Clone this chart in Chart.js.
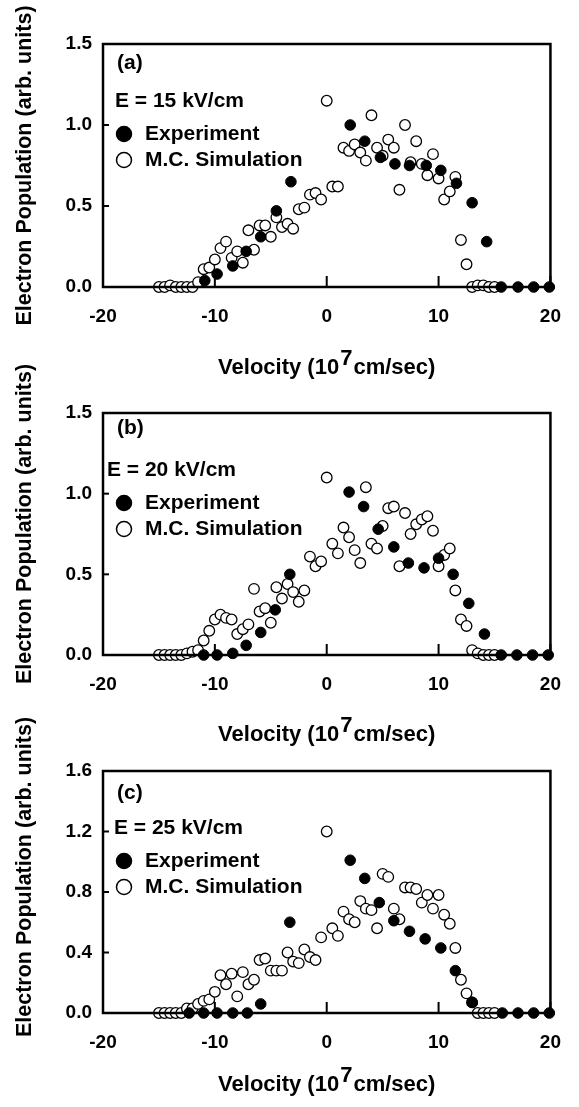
<!DOCTYPE html>
<html>
<head>
<meta charset="utf-8">
<title>Electron velocity distribution</title>
<script src="https://cdn.jsdelivr.net/npm/chart.js@4.4.0/dist/chart.umd.min.js"></script>
<style>
  html, body { margin: 0; padding: 0; background: #fff; }
  body { width: 579px; height: 1107px; position: relative; overflow: hidden; }
  .panel { position: absolute; left: 0; width: 579px; }
</style>
</head>
<body>
<div class="panel" id="wrapA"><canvas id="chartA"></canvas></div>
<div class="panel" id="wrapB"><canvas id="chartB"></canvas></div>
<div class="panel" id="wrapC"><canvas id="chartC"></canvas></div>
<script>
// ---------- DATA ----------
// M.C. simulation velocities (10^7 cm/sec), same grid for all three fields
const simX = [-15,-14.5,-14,-13.5,-13,-12.5,-12,-11.5,-11,-10.5,-10,-9.5,-9,-8.5,-8,-7.5,-7,-6.5,-6,-5.5,
              -5,-4.5,-4,-3.5,-3,-2.5,-2,-1.5,-1,-0.5,0,0.5,1,1.5,2,2.5,3,3.5,4,4.5,
              5,5.5,6,6.5,7,7.5,8,8.5,9,9.5,10,10.5,11,11.5,12,12.5,13,13.5,14,14.5,15];

// (a) E = 15 kV/cm
const simA = [0,0,0.01,0,0,0,0,0.03,0.11,0.12,0.17,0.24,0.28,0.18,0.22,0.15,0.35,0.23,0.38,0.38,
              0.31,0.43,0.37,0.39,0.36,0.48,0.49,0.57,0.58,0.54,1.15,0.62,0.62,0.86,0.84,0.88,0.83,0.78,1.06,0.86,
              0.81,0.91,0.86,0.60,1.00,0.77,0.90,0.76,0.69,0.82,0.67,0.54,0.59,0.68,0.29,0.14,0,0.01,0.01,0,0];
const expXA = [-10.9,-9.8,-8.4,-7.2,-5.9,-4.5,-3.2,2.1,3.4,4.8,6.1,7.4,8.9,10.2,11.6,13.0,14.3,15.6,17.1,18.5,19.9];
const expYA = [0.04,0.08,0.13,0.22,0.31,0.47,0.65,1.00,0.90,0.80,0.76,0.75,0.75,0.72,0.64,0.52,0.28,0,0,0,0];

// (b) E = 20 kV/cm
const simB = [0,0,0,0,0,0.01,0.02,0.03,0.09,0.15,0.22,0.25,0.23,0.22,0.13,0.16,0.19,0.41,0.27,0.29,
              0.20,0.42,0.35,0.44,0.39,0.33,0.40,0.61,0.55,0.58,1.10,0.69,0.63,0.79,0.73,0.65,0.57,1.04,0.69,0.66,
              0.80,0.91,0.92,0.55,0.88,0.75,0.81,0.84,0.86,0.77,0.55,0.62,0.66,0.40,0.22,0.18,0.03,0.01,0,0,0];
const expXB = [-11.0,-9.8,-8.4,-7.2,-5.9,-4.6,-3.3,2.0,3.3,4.6,6.0,7.3,8.7,10.0,11.3,12.7,14.1,15.6,17.0,18.4,19.8];
const expYB = [0,0,0.01,0.06,0.14,0.28,0.50,1.01,0.92,0.78,0.67,0.57,0.54,0.60,0.50,0.32,0.13,0,0,0,0];

// (c) E = 25 kV/cm
const simC = [0,0,0,0,0,0.03,0.03,0.06,0.08,0.09,0.14,0.25,0.19,0.26,0.11,0.27,0.19,0.22,0.35,0.36,
              0.28,0.28,0.28,0.40,0.34,0.33,0.42,0.37,0.35,0.50,1.20,0.56,0.51,0.67,0.62,0.60,0.74,0.69,0.68,0.56,
              0.92,0.90,0.69,0.62,0.83,0.83,0.82,0.73,0.78,0.69,0.78,0.65,0.59,0.43,0.22,0.13,0.07,0,0,0,0];
const expXC = [-12.3,-11.0,-9.8,-8.4,-7.1,-5.9,-3.3,2.1,3.4,4.7,6.0,7.4,8.8,10.2,11.5,13.0,15.7,17.1,18.5,19.9];
const expYC = [0,0,0,0,0,0.06,0.60,1.01,0.89,0.73,0.61,0.54,0.49,0.43,0.28,0.07,0,0,0,0];

// ticks + texts
const xTicks = [-20,-10,0,10,20];
const yTicksAB = [0,0.5,1.0,1.5];
const yTicksC = [0,0.4,0.8,1.2,1.6];
const legendLabels = ['Experiment','M.C. Simulation'];
const yTitle = 'Electron Population (arb. units)';
const xTitleParts = ['Velocity (10','7','cm/sec)'];

const FONT = '"Liberation Sans", Arial, Helvetica, sans-serif';

// ---------- DECORATION PLUGIN (frame, inward ticks, labels, axis titles) ----------
const panelDecor = {
  id: 'panelDecor',
  afterDatasetsDraw(chart, args, o) {
    const ctx = chart.ctx, a = chart.chartArea;
    const xs = chart.scales.x, ys = chart.scales.y;
    ctx.save();
    // frame
    ctx.strokeStyle = '#000';
    ctx.lineWidth = 2.5;
    ctx.strokeRect(a.left, a.top, a.right - a.left, a.bottom - a.top);
    // inward ticks
    ctx.lineWidth = 2;
    xs.ticks.forEach(t => {
      const px = xs.getPixelForValue(t.value);
      ctx.beginPath(); ctx.moveTo(px, a.bottom); ctx.lineTo(px, a.bottom - 11); ctx.stroke();
    });
    ys.ticks.forEach(t => {
      const py = ys.getPixelForValue(t.value);
      ctx.beginPath(); ctx.moveTo(a.left, py); ctx.lineTo(a.left + 6, py); ctx.stroke();
    });
    // panel letter + field
    ctx.fillStyle = '#000';
    ctx.textBaseline = 'middle';
    ctx.textAlign = 'left';
    ctx.font = 'bold 21px ' + FONT;
    ctx.fillText(o.letter, a.left + 14, a.top + o.letterDy);
    ctx.fillText(o.field, a.left + o.fieldDx, a.top + 57);
    // legend
    const ds = chart.data.datasets;
    [[ds[0], 90], [ds[1], 116]].forEach(([d, dy], i) => {
      ctx.beginPath();
      ctx.arc(a.left + 21, a.top + dy, 7.5, 0, Math.PI * 2);
      ctx.fillStyle = d.backgroundColor; ctx.fill();
      ctx.lineWidth = 1.5; ctx.strokeStyle = '#000'; ctx.stroke();
      ctx.fillStyle = '#000';
      ctx.fillText(legendLabels[i], a.left + 42, a.top + dy);
    });
    // x title with superscript 7
    ctx.font = 'bold 22px ' + FONT;
    const w1 = ctx.measureText(xTitleParts[0]).width;
    const w2 = ctx.measureText(xTitleParts[1]).width;
    const w3 = ctx.measureText(xTitleParts[2]).width;
    const gap = 1;
    const total = w1 + gap + w2 + gap + w3;
    let tx = (a.left + a.right) / 2 - total / 2;
    const ty = a.bottom + o.titleDy;
    ctx.fillText(xTitleParts[0], tx, ty); tx += w1 + gap;
    ctx.fillText(xTitleParts[1], tx, ty - 9); tx += w2 + gap;
    ctx.fillText(xTitleParts[2], tx, ty);
    // y title (rotated)
    ctx.font = 'bold 21.5px ' + FONT;
    ctx.translate(25, (a.top + a.bottom) / 2 + o.yTitleDy);
    ctx.rotate(-Math.PI / 2);
    ctx.textAlign = 'center';
    ctx.fillText(yTitle, 0, 0);
    ctx.restore();
  }
};

function makePanel(id, wrapId, boxTop, boxBottom, xH, simY, expX, expY, yTicks, deco) {
  const padTop = 66;   // room above the frame so the rotated title is not cut
  const h = padTop + (boxBottom - boxTop) + xH;
  const wrap = document.getElementById(wrapId);
  wrap.style.top = (boxTop - padTop) + 'px';
  wrap.style.height = h + 'px';
  const cv = document.getElementById(id);
  cv.width = 579; cv.height = h;
  cv.style.width = '579px'; cv.style.height = h + 'px';

  return new Chart(cv, {
    type: 'scatter',
    data: {
      datasets: [{
        label: legendLabels[0],
        data: expX.map((x, i) => ({ x: x, y: expY[i] })),
        backgroundColor: '#000', borderColor: '#000', borderWidth: 1,
        pointRadius: 5.3, pointHoverRadius: 5.3, clip: false
      }, {
        label: legendLabels[1],
        data: simX.map((x, i) => ({ x: x, y: simY[i] })),
        backgroundColor: '#fff', borderColor: '#000', borderWidth: 1.3,
        pointRadius: 5.3, pointHoverRadius: 5.3, clip: false
      }]
    },
    options: {
      responsive: false,
      animation: false,
      devicePixelRatio: 1,
      layout: { padding: { top: padTop, right: 21, left: 0, bottom: 0 } },
      plugins: {
        legend: { display: false },
        tooltip: { enabled: false },
        panelDecor: deco
      },
      scales: {
        x: {
          type: 'linear', min: -20, max: 20,
          afterBuildTicks: s => { s.ticks = xTicks.map(v => ({ value: v })); },
          afterFit: s => { s.height = xH; },
          grid: { display: false, drawTicks: false },
          border: { display: false },
          ticks: { color: '#000', padding: 18, maxRotation: 0, font: { family: FONT, size: 19, weight: 'bold' } }
        },
        y: {
          type: 'linear', min: 0, max: yTicks[yTicks.length - 1],
          afterBuildTicks: s => { s.ticks = yTicks.map(v => ({ value: v })); },
          afterFit: s => { s.width = 103; },
          grid: { display: false, drawTicks: false },
          border: { display: false },
          ticks: { color: '#000', padding: 11, font: { family: FONT, size: 19, weight: 'bold' },
                   callback: v => Number(v).toFixed(1) }
        }
      }
    },
    plugins: [panelDecor]
  });
}

makePanel('chartA', 'wrapA', 44, 287, 100, simA, expXA, expYA, yTicksAB,
  { letter: '(a)', letterDy: 19, field: 'E = 15 kV/cm', fieldDx: 12, titleDy: 81, yTitleDy: 0 });
makePanel('chartB', 'wrapB', 413, 655, 100, simB, expXB, expYB, yTicksAB,
  { letter: '(b)', letterDy: 15, field: 'E = 20 kV/cm', fieldDx: 4, titleDy: 80, yTitleDy: -10 });
makePanel('chartC', 'wrapC', 771, 1013, 94, simC, expXC, expYC, yTicksC,
  { letter: '(c)', letterDy: 22, field: 'E = 25 kV/cm', fieldDx: 11, titleDy: 72, yTitleDy: -15 });
</script>
</body>
</html>
